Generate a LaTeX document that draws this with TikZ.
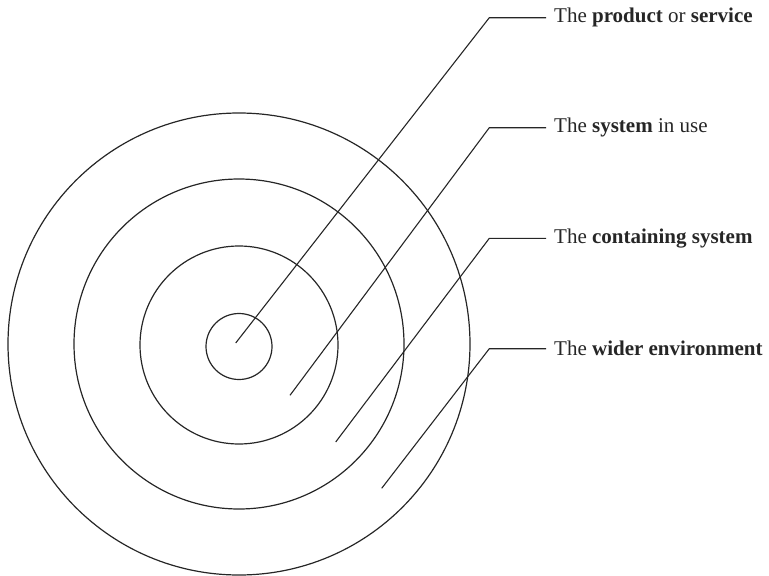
\documentclass[tikz,border=0pt]{standalone}
\usepackage{fontspec}
\setmainfont{Liberation Serif}
\begin{document}
\begin{tikzpicture}[x=1pt,y=-1pt,
  ring/.style={draw=black!85,line width=1.2pt,circle,inner sep=0pt},
  leader/.style={draw=black!85,line width=1.1pt},
  lbl/.style={anchor=west,inner xsep=8pt,inner ysep=0pt,font=\fontsize{21}{25}\selectfont,text=black!85}]
\useasboundingbox (0,0) rectangle (769,576);
\node[ring,minimum size=462pt] (c4) at (239,344) {};
\node[ring,minimum size=330pt] (c3) at (239,344) {};
\node[ring,minimum size=198pt] (c2) at (239,345) {};
\node[ring,minimum size=66pt] (c1) at (239,346.5) {};
\coordinate (p1) at (235.7,343);
\coordinate (p2) at (290,395.3);
\coordinate (p3) at (335.7,442);
\coordinate (p4) at (381.7,488.3);
\coordinate (k1) at (489.3,17.7);
\coordinate (k2) at (489.3,127.7);
\coordinate (k3) at (489.3,238.3);
\coordinate (k4) at (489.3,348.7);
\node[lbl] (t1) at (546,17.7) {The \textbf{product} or \textbf{service}};
\node[lbl] (t2) at (546,127.7) {The \textbf{system} in use};
\node[lbl] (t3) at (546,238.3) {The \textbf{containing system}};
\node[lbl] (t4) at (546,348.7) {The \textbf{wider environment}};
\draw[leader] (p1) -- (k1) -- (t1.west);
\draw[leader] (p2) -- (k2) -- (t2.west);
\draw[leader] (p3) -- (k3) -- (t3.west);
\draw[leader] (p4) -- (k4) -- (t4.west);
\end{tikzpicture}
\end{document}
